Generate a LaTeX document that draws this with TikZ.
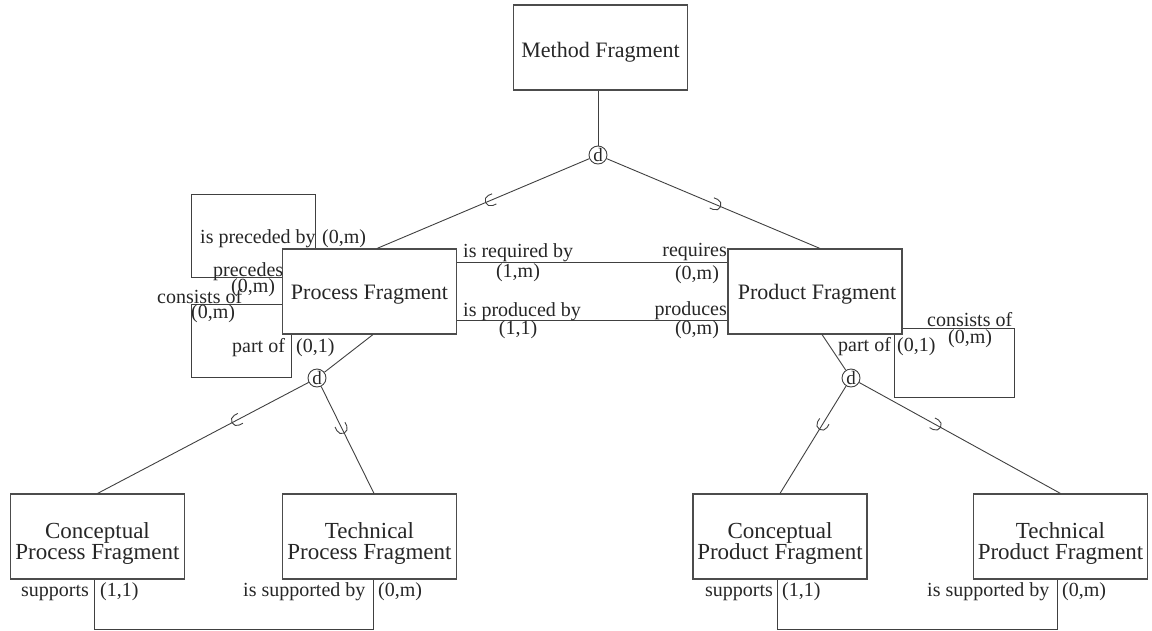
\documentclass[tikz,border=0pt]{standalone}
\usepackage{fontspec}
\setmainfont{Liberation Serif}
\usetikzlibrary{decorations.markings}
\begin{document}
\begin{tikzpicture}[x=1pt,y=-1pt,
  box/.style={draw=black!70, line width=1.1pt, minimum width=174pt, minimum height=85pt, inner sep=0pt},
  btext/.style={font=\fontsize{22}{20}\selectfont, inner sep=0pt, text=black!85},
  btexttwo/.style={font=\fontsize{23}{21}\selectfont, inner sep=0pt, align=center, text=black!85},
  lab/.style={font=\fontsize{20}{22}\selectfont, inner sep=0pt, text=black!85},
  conn/.style={draw=black!75, line width=0.9pt},
  disj/.style={circle, draw=black!75, line width=0.9pt, minimum size=18pt, inner sep=0pt,
    font=\fontsize{19}{19}\selectfont, text=black!85},
  sub/.style={postaction={decorate, decoration={markings, mark=at position #1 with
    {\draw[conn] (4pt,5.5pt) -- (0pt,5.5pt) arc[start angle=90, end angle=270, radius=5.5pt] -- (4pt,-5.5pt);}}}}
]
\useasboundingbox (0,0) rectangle (1152,630);

% entity boxes
\node[box] (meth) at (600.5,47.5) {};
\node[btext, anchor=base] (meth-t) at ([yshift=-9.5pt]meth.center) {Method Fragment};
\node[box] (proc) at (369.5,291.5) {};
\node[btext, anchor=base] (proc-t) at ([yshift=-7.5pt]proc.center) {Process Fragment};
\node[box] (prod) at (815,291.5) {};
\node[btext, anchor=base] (prod-t) at ([xshift=2pt,yshift=-7.5pt]prod.center) {Product Fragment};
\node[box] (cproc) at (97.5,536.5) {};
\node[btexttwo] (cproc-t) at ([yshift=-7pt]cproc.center) {Conceptual\\Process Fragment};
\node[box] (tproc) at (369.5,536.5) {};
\node[btexttwo] (tproc-t) at ([yshift=-7pt]tproc.center) {Technical\\Process Fragment};
\node[box] (cprod) at (780,536.5) {};
\node[btexttwo] (cprod-t) at ([yshift=-7pt]cprod.center) {Conceptual\\Product Fragment};
\node[box] (tprod) at (1060.5,536.5) {};
\node[btexttwo] (tprod-t) at ([yshift=-7pt]tprod.center) {Technical\\Product Fragment};

% disjoint specialisation circles
\node[disj] (d1) at (598,155) {d};
\node[disj] (d2) at (317,378) {d};
\node[disj] (d3) at (851,378) {d};

% specialisation lines with subset marks
\draw[conn] ([xshift=-2.5pt]meth.south) -- (d1);
\draw[conn, sub=0.535] ([xshift=7.5pt]proc.north) -- (d1);
\draw[conn, sub=0.49] ([xshift=5pt]prod.north) -- (d1);
\draw[conn] ([xshift=3.5pt]proc.south) -- (d2);
\draw[conn, sub=0.66] (cproc.north) -- (d2);
\draw[conn, sub=0.61] ([xshift=4.5pt]tproc.north) -- (d2);
\draw[conn] ([xshift=7pt]prod.south) -- (d3);
\draw[conn, sub=0.64] (cprod.north) -- (d3);
\draw[conn, sub=0.62] (tprod.north) -- (d3);

% relationships between process and product fragments
\draw[conn] (proc.east |- 0,262) -- (prod.west |- 0,262);
\draw[conn] (proc.east |- 0,320) -- (prod.west |- 0,320);
\node[lab, anchor=base west] (r1a) at (463,257) {is required by};
\node[lab, anchor=base] (r1b) at (518,277) {(1,m)};
\node[lab, anchor=base east] (r1c) at (727,256) {requires};
\node[lab, anchor=base] (r1d) at (697,279) {(0,m)};
\node[lab, anchor=base west] (r2a) at (463,316) {is produced by};
\node[lab, anchor=base] (r2b) at (518,334) {(1,1)};
\node[lab, anchor=base east] (r2c) at (727,315) {produces};
\node[lab, anchor=base] (r2d) at (697,334) {(0,m)};

% recursive relationships of the process fragment
\draw[conn] (proc.west |- 0,277) -| (191,194) -| (proc.north -| 315,0);
\draw[conn] (proc.west |- 0,304) -| (191,377) -| (proc.south -| 291,0);
\node[lab, anchor=base west] (p1a) at (200,243) {is preceded by};
\node[lab, anchor=base west] (p1b) at (322,243) {(0,m)};
\node[lab, anchor=base west] (p1c) at (213,276) {precedes};
\node[lab, anchor=base west] (p1d) at (231,292) {(0,m)};
\node[lab, anchor=base west] (p2a) at (157,303) {consists of};
\node[lab, anchor=base west] (p2b) at (191,318) {(0,m)};
\node[lab, anchor=base west] (p2c) at (232,352) {part of};
\node[lab, anchor=base west] (p2d) at (296,352) {(0,1)};

% recursive relationship of the product fragment
\draw[conn] (prod.east |- 0,328) -| (1014,397) -| (prod.south -| 894,0);
\node[lab, anchor=base west] (q1a) at (927,326) {consists of};
\node[lab, anchor=base west] (q1b) at (948,343) {(0,m)};
\node[lab, anchor=base west] (q1c) at (838,351) {part of};
\node[lab, anchor=base west] (q1d) at (897,351) {(0,1)};

% support relationships between conceptual and technical fragments
\draw[conn] (cproc.south -| 94,0) |- (373,629) -- (tproc.south -| 373,0);
\node[lab, anchor=base west] (s1a) at (21,596) {supports};
\node[lab, anchor=base west] (s1b) at (100,596) {(1,1)};
\node[lab, anchor=base west] (s1c) at (243,596) {is supported by};
\node[lab, anchor=base west] (s1d) at (378,596) {(0,m)};
\draw[conn] (cprod.south -| 777,0) |- (1057,629) -- (tprod.south -| 1057,0);
\node[lab, anchor=base west] (s2a) at (705,596) {supports};
\node[lab, anchor=base west] (s2b) at (782,596) {(1,1)};
\node[lab, anchor=base west] (s2c) at (927,596) {is supported by};
\node[lab, anchor=base west] (s2d) at (1062,596) {(0,m)};
\end{tikzpicture}
\end{document}
